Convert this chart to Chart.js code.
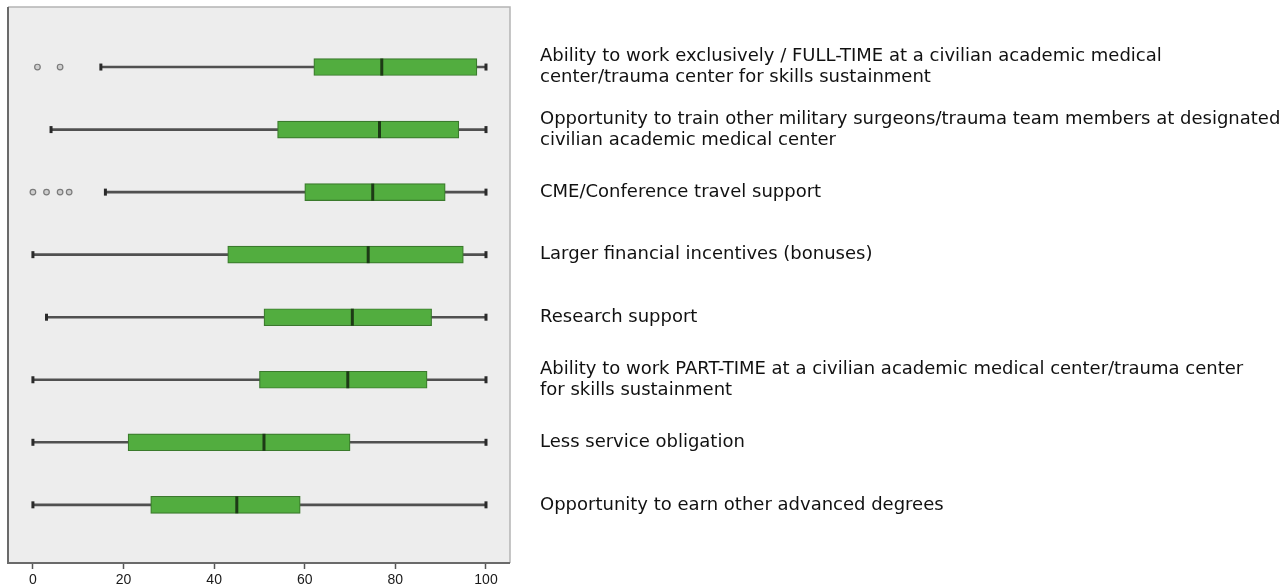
<!DOCTYPE html>
<html>
<head>
<meta charset="utf-8">
<script src="https://cdn.jsdelivr.net/npm/chart.js@4/dist/chart.umd.min.js"></script>
<style>
  html, body { margin: 0; padding: 0; background: #fff; }
  #wrap { width: 1285px; height: 588px; }
</style>
</head>
<body>
<div id="wrap"><canvas id="grafica"></canvas></div>
<script>
// Categorias (de arriba hacia abajo)
const categorias = [
    ["Ability to work exclusively / FULL-TIME at a civilian academic medical", "center/trauma center for skills sustainment"],
    ["Opportunity to train other military surgeons/trauma team members at designated", "civilian academic medical center"],
    "CME/Conference travel support",
    "Larger financial incentives (bonuses)",
    "Research support",
    ["Ability to work PART-TIME at a civilian academic medical center/trauma center", "for skills sustainment"],
    "Less service obligation",
    "Opportunity to earn other advanced degrees"
];

// Valores de cada caja
const minimos = [15, 4, 16, 0, 3, 0, 0, 0];
const cuartil1 = [62, 54, 60, 43, 51, 50, 21, 26];
const medianas = [77, 76.5, 75, 74, 70.5, 69.5, 51, 45];
const cuartil3 = [98, 94, 91, 95, 88, 87, 70, 59];
const maximos = [100, 100, 100, 100, 100, 100, 100, 100];
const atipicos = [[1, 6], [], [0, 3, 6, 8], [], [], [], [], []];

const ticksX = [0, 20, 40, 60, 80, 100];

// Posicion de cada fila en el eje y (1..n)
const filas = categorias.map((_, i) => i + 1);

const bigotes = filas.map((y, i) => ({ x: [minimos[i], maximos[i]], y }));
const cajas = filas.map((y, i) => ({ x: [cuartil1[i], cuartil3[i]], y }));
const puntosMediana = filas.map((y, i) => ({ x: medianas[i], y }));
const extremos = [];
filas.forEach((y, i) => {
    extremos.push({ x: minimos[i], y });
    extremos.push({ x: maximos[i], y });
});
const puntosAtipicos = [];
atipicos.forEach((lista, i) => {
    lista.forEach(v => puntosAtipicos.push({ x: v, y: filas[i] }));
});

// Fondo gris y marco del area de la grafica
const marco = {
    id: "marco",
    beforeDatasetsDraw(chart) {
        const { ctx, chartArea: a } = chart;
        ctx.save();
        ctx.fillStyle = "#ededed";
        ctx.fillRect(a.left, a.top, a.right - a.left, a.bottom - a.top);
        ctx.restore();
    },
    afterDraw(chart) {
        const { ctx, chartArea: a } = chart;
        ctx.save();
        ctx.lineWidth = 1.5;
        ctx.strokeStyle = "#b4b4b4";
        ctx.beginPath();
        ctx.moveTo(a.left, a.top);
        ctx.lineTo(a.right, a.top);
        ctx.lineTo(a.right, a.bottom);
        ctx.stroke();
        ctx.lineWidth = 2;
        ctx.strokeStyle = "#6a6a6a";
        ctx.beginPath();
        ctx.moveTo(a.left, a.top);
        ctx.lineTo(a.left, a.bottom);
        ctx.lineTo(a.right, a.bottom);
        ctx.stroke();
        ctx.restore();
    }
};

const ctx = document.getElementById("grafica").getContext("2d");
new Chart(ctx, {
    type: "bar",
    data: {
        datasets: [
            {
                label: "bigotes",
                data: bigotes,
                backgroundColor: "#505050",
                barThickness: 2,
                grouped: false,
                order: 4
            },
            {
                label: "cajas",
                data: cajas,
                backgroundColor: "#52ad3f",
                borderColor: "#3a7a2c",
                borderWidth: 1.2,
                borderSkipped: false,
                barThickness: 17,
                grouped: false,
                order: 3
            },
            {
                type: "scatter",
                label: "medianas",
                data: puntosMediana,
                pointStyle: "line",
                rotation: 90,
                radius: 8.5,
                borderWidth: 3,
                borderColor: "#1d3a16",
                order: 1
            },
            {
                type: "scatter",
                label: "extremos",
                data: extremos,
                pointStyle: "line",
                rotation: 90,
                radius: 3.5,
                borderWidth: 3,
                borderColor: "#2a2a2a",
                order: 2
            },
            {
                type: "scatter",
                label: "atipicos",
                data: puntosAtipicos,
                pointStyle: "circle",
                radius: 2.8,
                borderWidth: 1.2,
                borderColor: "#7a7a7a",
                backgroundColor: "#cfcfcf",
                order: 1
            }
        ]
    },
    options: {
        indexAxis: "y",
        responsive: true,
        maintainAspectRatio: false,
        animation: false,
        layout: { autoPadding: false, padding: { left: 8, top: 7, right: 0, bottom: 0 } },
        plugins: {
            legend: { display: false },
            tooltip: { enabled: false }
        },
        scales: {
            x: {
                type: "linear",
                min: -5.5,
                max: 105.3,
                offset: false,
                afterBuildTicks: (scale) => { scale.ticks = ticksX.map(v => ({ value: v })); },
                afterFit: (scale) => {
                    scale.height = 25;
                    scale.paddingLeft = 0;
                    scale.paddingRight = 0;
                },
                grid: { display: true, drawOnChartArea: false, tickLength: 6, color: "#555", tickWidth: 1.5 },
                border: { display: false },
                ticks: {
                    padding: 3,
                    color: "#1a1a1a",
                    font: { family: "Liberation Sans", size: 14 }
                }
            },
            y: {
                type: "linear",
                position: "right",
                reverse: true,
                offset: false,
                min: 0.04,
                max: 8.93,
                afterBuildTicks: (scale) => { scale.ticks = filas.map(v => ({ value: v })); },
                afterFit: (scale) => {
                    scale.width = 775;
                    scale.paddingTop = 0;
                    scale.paddingBottom = 0;
                },
                grid: { display: false },
                border: { display: false },
                ticks: {
                    padding: 22,
                    color: "#111",
                    font: { family: "DejaVu Sans", size: 18, lineHeight: 1.17 },
                    callback: (v) => categorias[v - 1]
                }
            }
        }
    },
    plugins: [marco]
});
</script>
</body>
</html>
